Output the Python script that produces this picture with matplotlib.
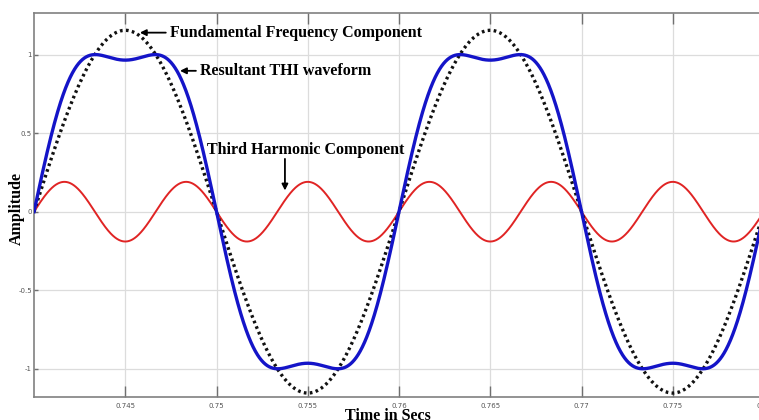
import numpy as np
import matplotlib
matplotlib.use("Agg")
import matplotlib.pyplot as plt

# values (50 Hz THI waveform)
time_range = [0.74, 0.78]
freq_hz = 50
fund_amp = 1.155
third_amp = 0.19
x_ticks = [0.745, 0.75, 0.755, 0.76, 0.765, 0.77, 0.775, 0.78]
x_tick_labels = ["0.745", "0.75", "0.755", "0.76", "0.765", "0.77", "0.775", "0.78"]
y_ticks = [-1, -0.5, 0, 0.5, 1]
y_tick_labels = ["-1", "-0.5", "0", "0.5", "1"]

t = np.linspace(time_range[0], time_range[1], 3000)
w = 2 * np.pi * freq_hz * (t - time_range[0])
fundamental = fund_amp * np.sin(w)
third = third_amp * np.sin(3 * w)
resultant = fundamental + third

serif = ["Liberation Serif", "DejaVu Serif"]

fig = plt.figure(figsize=(7.59, 4.2), dpi=100)
ax = fig.add_axes([34 / 759, 23 / 420, 730 / 759, 384.3 / 420])

ax.plot(t, third, color="#e02424", lw=1.4, zorder=3)
ax.plot(t, fundamental, color="#111111", lw=2.4, linestyle=(0, (0.8, 1.0)), zorder=4)
ax.plot(t, resultant, color="#1414c8", lw=2.4, zorder=5)

ax.set_xlim(time_range)
ax.set_ylim(-1.18, 1.267)
ax.set_xticks(x_ticks)
ax.set_xticklabels(x_tick_labels)
ax.set_yticks(y_ticks)
ax.set_yticklabels(y_tick_labels)
ax.grid(True, color="#dcdcdc", lw=0.9)
ax.set_axisbelow(True)
ax.tick_params(axis="x", direction="in", length=8, width=1, color="#707070",
               labelsize=5, labelcolor="#555555", pad=4, top=True)
ax.tick_params(axis="y", direction="in", length=3, width=1, color="#707070",
               labelsize=5, labelcolor="#555555", pad=1.5, right=True)
for s in ax.spines.values():
    s.set_color("#808080")
    s.set_linewidth(1.2)

ax.set_xlabel("Time in Secs", family=serif, fontweight="bold", fontsize=11.5)
ax.xaxis.set_label_coords(0.485, -0.028)
ax.set_ylabel("Amplitude", family=serif, fontweight="bold", fontsize=11.5)
ax.yaxis.set_label_coords(-0.013, 0.49)

arrow = dict(arrowstyle="-|>", color="black", lw=1.3, mutation_scale=9, shrinkA=1, shrinkB=0)
txt = dict(family=serif, fontweight="bold", fontsize=11.5)
ax.annotate("Fundamental Frequency Component", xy=(0.7458, 1.14), xytext=(0.74745, 1.14),
            va="center", ha="left", arrowprops=arrow, **txt)
ax.annotate("Resultant THI waveform", xy=(0.7480, 0.897), xytext=(0.7491, 0.897),
            va="center", ha="left", arrowprops=arrow, **txt)
ax.text(0.7549, 0.39, "Third Harmonic Component", va="center", ha="center", **txt)
ax.annotate("", xy=(0.75375, 0.135), xytext=(0.75375, 0.345), arrowprops=arrow)

fig.savefig("out.png", dpi=100)
